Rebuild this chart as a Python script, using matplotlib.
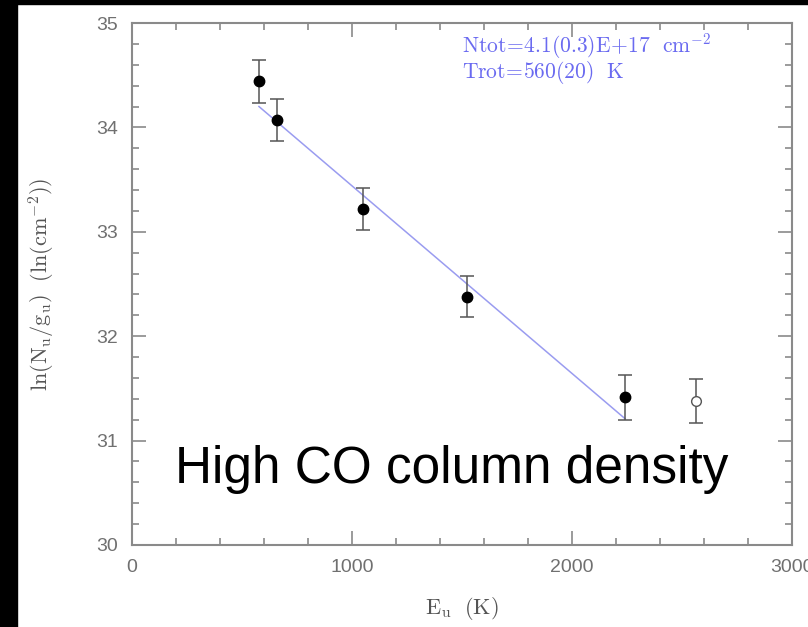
import matplotlib
matplotlib.use('Agg')
import matplotlib.pyplot as plt
from matplotlib.ticker import MultipleLocator
from matplotlib.patches import Rectangle

# data
eu = [577, 659, 1050, 1523, 2241]
ln_n = [34.44, 34.07, 33.22, 32.38, 31.42]
err_lo = [0.21, 0.20, 0.20, 0.20, 0.22]
err_hi = [0.21, 0.20, 0.20, 0.20, 0.21]

eu_open = [2564]
ln_open = [31.38]
err_open = [0.21]

fit_x = [577, 2241]
fit_y = [34.20, 31.21]

plt.rcParams['mathtext.fontset'] = 'cm'
grey = '#8a8a8a'
blue = '#6a6af0'

fig = plt.figure(figsize=(8.08, 6.27), dpi=100)
ax = fig.add_axes([0.1634, 0.1308, 0.8168, 0.8325])

# black frame bits of the screenshot
fig.patches.append(Rectangle((0, 0), 17/808, 1, transform=fig.transFigure, color='black', zorder=0))
fig.patches.append(Rectangle((0, 1 - 4/627), 1, 4/627, transform=fig.transFigure, color='black', zorder=0))

ax.plot(fit_x, fit_y, color='#9a9cf0', lw=1.1, zorder=2)
ax.errorbar(eu, ln_n, yerr=[err_lo, err_hi], fmt='o', color='black', ms=7.5,
            ecolor='#555555', elinewidth=1.1, capsize=5, capthick=1.1, zorder=3)
ax.errorbar(eu_open, ln_open, yerr=err_open, fmt='o', mfc='white', mec='#555555', ms=7,
            ecolor='#555555', elinewidth=1.1, capsize=5, capthick=1.1, zorder=3)

ax.set_xlim(0, 3000)
ax.set_ylim(30, 35)
ax.xaxis.set_major_locator(MultipleLocator(1000))
ax.xaxis.set_minor_locator(MultipleLocator(200))
ax.yaxis.set_major_locator(MultipleLocator(1))
ax.yaxis.set_minor_locator(MultipleLocator(0.2))
ax.tick_params(which='both', direction='in', top=True, right=True, color=grey, width=1.2)
ax.tick_params(which='major', length=10, labelsize=14, labelcolor='#707070', pad=10)
ax.tick_params(which='minor', length=5)
for lab in ax.get_xticklabels() + ax.get_yticklabels():
    lab.set_family('Liberation Sans')
for s in ax.spines.values():
    s.set_color(grey)
    s.set_linewidth(1.5)

ax.set_xlabel(r'$\mathrm{E_u\ \ (K)}$', fontsize=16, color='#555555', labelpad=14)
ax.set_ylabel(r'$\mathrm{ln(N_u/g_u)\ \ (ln(cm^{-2}))}$', fontsize=16, color='#555555', labelpad=28)

ax.text(0.5, 0.955, r'$\mathrm{Ntot\!=\!4.1(0.3)E\!+\!17\ \ cm^{-2}}$', transform=ax.transAxes,
        color=blue, fontsize=15.5, ha='left', va='center')
ax.text(0.5, 0.905, r'$\mathrm{Trot\!=\!560(20)\ \ K}$', transform=ax.transAxes,
        color=blue, fontsize=15.5, ha='left', va='center')

ax.text(0.485, 0.144, 'High CO column density', transform=ax.transAxes, fontsize=37,
        family='Liberation Sans', color='black', ha='center', va='center')

fig.savefig('out.png', dpi=100)
